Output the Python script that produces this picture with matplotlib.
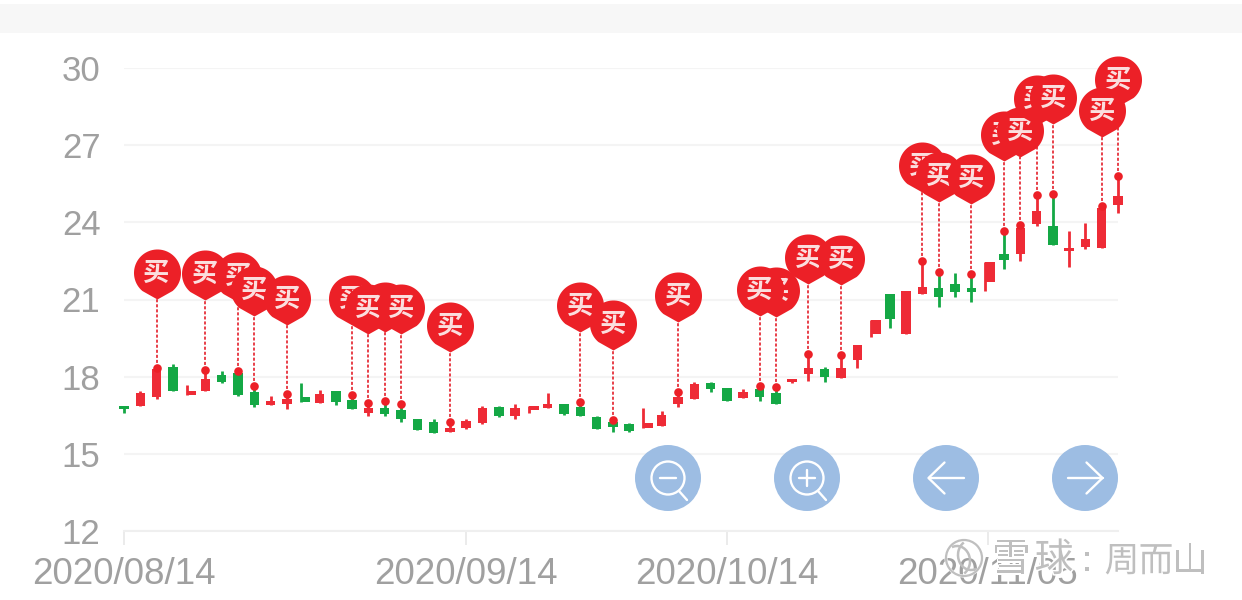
#!/usr/bin/env python3
"""Candlestick chart with buy pins, zoom buttons and watermark."""
import numpy as np
import matplotlib
matplotlib.use('Agg')
import matplotlib.pyplot as plt
import matplotlib.patheffects as pe
from matplotlib.markers import MarkerStyle
from matplotlib.patches import Arc, Circle, Rectangle
from matplotlib.path import Path

plt.rcParams['font.family'] = ['Liberation Sans', 'Noto Sans CJK SC', 'DejaVu Sans']

# candle values, one entry per trading day
opens = [16.86, 16.87, 17.22, 18.39, 17.29, 17.45, 18.06, 18.13, 17.41, 16.90, 16.94,
         17.20, 16.96, 17.45, 17.09, 16.57, 16.77, 16.70, 16.34, 16.25, 15.84, 16.01,
         16.21, 16.81, 16.48, 16.71, 16.78, 16.94, 16.81, 16.44, 16.22, 16.15, 16.01,
         16.08, 16.94, 17.12, 17.74, 17.57, 17.17, 17.51, 17.38, 17.80, 18.10, 18.30,
         17.96, 18.64, 19.64, 21.20, 19.67, 21.21, 21.43, 21.59, 21.46, 21.67, 22.77,
         22.78, 23.93, 23.86, 22.88, 23.03, 23.01, 24.66]
closes = [16.73, 17.36, 18.28, 17.45, 17.44, 17.90, 17.80, 17.29, 16.90, 17.04, 17.12,
          17.03, 17.32, 17.03, 16.74, 16.77, 16.54, 16.34, 15.93, 15.80, 15.99, 16.29,
          16.79, 16.48, 16.77, 16.87, 16.94, 16.55, 16.47, 15.95, 16.03, 15.90, 16.21,
          16.51, 17.22, 17.70, 17.51, 17.05, 17.41, 17.22, 16.94, 17.90, 18.32, 17.97,
          18.32, 19.23, 20.20, 20.24, 21.34, 21.50, 21.08, 21.28, 21.28, 22.47, 22.54,
          23.77, 24.43, 23.11, 23.01, 23.35, 24.54, 25.02]
highs = [16.86, 17.44, 18.34, 18.48, 17.66, 18.26, 18.23, 18.23, 17.63, 17.24, 17.32,
         17.74, 17.48, 17.45, 17.29, 16.97, 17.05, 16.93, 16.34, 16.34, 16.25, 16.34,
         16.86, 16.86, 16.92, 16.87, 17.35, 16.94, 17.01, 16.48, 16.31, 16.19, 16.77,
         16.65, 17.40, 17.78, 17.78, 17.57, 17.51, 17.64, 17.61, 17.90, 18.87, 18.39,
         18.83, 19.23, 20.20, 21.20, 21.34, 22.50, 22.07, 22.02, 21.99, 22.47, 23.67,
         23.90, 25.05, 25.10, 23.66, 23.99, 24.63, 25.81]
lows = [16.60, 16.86, 17.13, 17.45, 17.29, 17.45, 17.76, 17.25, 16.83, 16.90, 16.74,
        17.03, 16.96, 16.90, 16.74, 16.48, 16.48, 16.25, 15.93, 15.80, 15.84, 15.98,
        16.16, 16.42, 16.35, 16.60, 16.78, 16.52, 16.47, 15.95, 15.86, 15.86, 16.01,
        16.08, 16.83, 17.12, 17.39, 17.05, 17.17, 17.06, 16.94, 17.74, 17.84, 17.78,
        17.96, 18.34, 19.53, 19.90, 19.67, 21.21, 20.71, 21.11, 20.89, 21.34, 22.20,
        22.50, 23.87, 23.11, 22.27, 22.95, 23.01, 24.35]

# candles whose wick sits left of the body in the source rendering
skewed = [4, 11, 25, 32, 46, 53]

# buy pins in paint order (later ones cover earlier ones), with the value at the pin tip
buy_idx = [2, 5, 7, 8, 10, 14, 16, 15, 17, 20, 28, 30, 34, 40, 39, 42, 44,
           49, 50, 52, 54, 55, 56, 57, 61, 60]
buy_tip = [21.02, 20.98, 20.90, 20.36, 20.01, 20.01, 19.74, 19.66, 19.66, 18.97, 19.74, 19.04,
           20.12, 20.32, 20.36, 21.60, 21.56, 25.19, 24.79, 24.71, 26.39, 26.54, 27.78, 27.82,
           28.52, 27.32]

y_ticks = [12, 15, 18, 21, 24, 27, 30]
x_tick_idx = [0, 21, 37, 53]
x_tick_labels = ['2020/08/14', '2020/09/14', '2020/10/14', '2020/11/05']

RED = '#ee2b36'
GREEN = '#14a845'
PIN_RED = '#ec2027'
DASH_RED = '#e6303a'
BLUE = '#9dbde3'
GRID = '#f4f4f4'
LABEL = '#a0a0a0'


def pin_path():
    """Teardrop with its tip at the origin, 50 px tall and 47 px wide."""
    r, cy = 23.5, 26.5
    ang = np.deg2rad(np.linspace(-50, 230, 60))
    verts = [(r * np.cos(a), cy + r * np.sin(a)) for a in ang]
    codes = [Path.MOVETO] + [Path.LINETO] * (len(verts) - 1)
    right = verts[0]
    verts += [(-4.5, 2.5), (0.0, 0.0), (4.5, 2.5), right, right]
    codes += [Path.CURVE3, Path.CURVE3, Path.CURVE3, Path.CURVE3, Path.CLOSEPOLY]
    return Path(verts, codes)


def draw_button(ov, cx, kind, cy=478):
    """Round blue control button with a white line icon."""
    ov.add_patch(Circle((cx, cy), 33, fc=BLUE, ec='none', zorder=60))
    kw = dict(color='white', lw=1.7, solid_capstyle='round', solid_joinstyle='round', zorder=61)
    if kind in ('minus', 'plus'):
        ov.add_patch(Circle((cx, cy), 16.5, fc='none', ec='white', lw=1.7, zorder=61))
        ov.plot([cx + 11, cx + 19], [cy + 13, cy + 22], **kw)
        ov.plot([cx - 8, cx + 8], [cy, cy], **kw)
        if kind == 'plus':
            ov.plot([cx, cx], [cy - 8, cy + 8], **kw)
    else:
        d = -1 if kind == 'left' else 1
        ov.plot([cx - 17.5, cx + 17.5], [cy, cy], **kw)
        ov.plot([cx + d * 1.5, cx + d * 17.5, cx + d * 1.5], [cy - 15.5, cy, cy + 15.5], **kw)


def draw_watermark(ov):
    """Faint site logo and author name at the bottom right."""
    gray = '#bfbfbf'
    halo = [pe.withStroke(linewidth=2.2, foreground='white')]
    ov.add_patch(Circle((964, 558), 18, fc='none', ec=gray, lw=1.6, zorder=70,
                        path_effects=halo))
    ov.add_patch(Arc((957, 561), 26, 30, angle=0, theta1=250, theta2=60, ec=gray, lw=1.8, zorder=71))
    ov.add_patch(Arc((971, 555), 26, 30, angle=0, theta1=70, theta2=240, ec=gray, lw=1.8, zorder=71))
    kw = dict(color=gray, ha='center', va='center', zorder=72, path_effects=halo)
    for cx, ch in [(1011, '雪'), (1054, '球')]:
        ov.text(cx, 561, ch, fontsize=28, **kw)
    ov.text(1087, 561, ':', fontsize=25, **kw)
    for cx, ch in [(1122, '周'), (1156, '而'), (1190, '山')]:
        ov.text(cx, 562, ch, fontsize=25, **kw)


fig = plt.figure(figsize=(12.42, 6), dpi=100)
ax = fig.add_axes([124 / 1242, 1 - 531 / 600, (1118 - 124) / 1242, (531 - 68) / 600])
ax.set_xlim(0, 61)
ax.set_ylim(12, 30)
ax.patch.set_visible(False)

for side in ['top', 'right', 'left']:
    ax.spines[side].set_visible(False)
ax.spines['bottom'].set_color('#efefef')
ax.spines['bottom'].set_linewidth(1.5)

ax.set_yticks(y_ticks)
ax.tick_params(axis='y', length=0, pad=17, labelsize=25, labelcolor=LABEL)
ax.set_xticks(x_tick_idx)
ax.set_xticklabels(x_tick_labels)
ax.tick_params(axis='x', length=10, width=1.2, color='#e8e8e8', pad=9, labelsize=26.5, labelcolor=LABEL)
ax.grid(axis='y', color=GRID, lw=1.5, zorder=0)
ax.set_axisbelow(True)

# candles
for i, (o, c, h, l) in enumerate(zip(opens, closes, highs, lows)):
    color = RED if c >= o else GREEN
    shift = 0.15 if i in skewed else 0.0
    ax.vlines(i - shift, l, h, color=color, lw=2.0, zorder=4, clip_on=False)
    ax.bar(i + shift, abs(c - o), bottom=min(o, c), width=0.58, color=color, lw=0,
           zorder=5, clip_on=False)

# buy pins: dashed stem, small dot on the day's high, balloon and label
pin_marker = MarkerStyle(pin_path())
for n, (i, tip) in enumerate(zip(buy_idx, buy_tip)):
    ax.vlines(i, highs[i], tip, color=DASH_RED, lw=1.3, linestyles=(0, (1.7, 1.1)), zorder=6,
              clip_on=False)
    ax.plot(i, highs[i], 'o', ms=6.2, color=PIN_RED, mew=0, zorder=7, clip_on=False)
    ax.plot(i, tip, marker=pin_marker, ms=72, color=PIN_RED, mew=0, zorder=10 + n, clip_on=False)
    ax.annotate('买', (i, tip), xytext=(0, 18), textcoords='offset points', ha='center',
                va='center', fontsize=19, fontweight='bold', color='#fbdede', zorder=10 + n,
                clip_on=False)

# page furniture in pixel coordinates
ov = fig.add_axes([0, 0, 1, 1], zorder=5)
ov.set_xlim(0, 1242)
ov.set_ylim(600, 0)
ov.axis('off')
ov.add_patch(Rectangle((0, 4), 1242, 29, fc='#f7f7f7', ec='none'))
draw_button(ov, 668, 'minus')
draw_button(ov, 807, 'plus')
draw_button(ov, 946, 'left')
draw_button(ov, 1085, 'right')
draw_watermark(ov)

fig.savefig('out.png', dpi=100)
